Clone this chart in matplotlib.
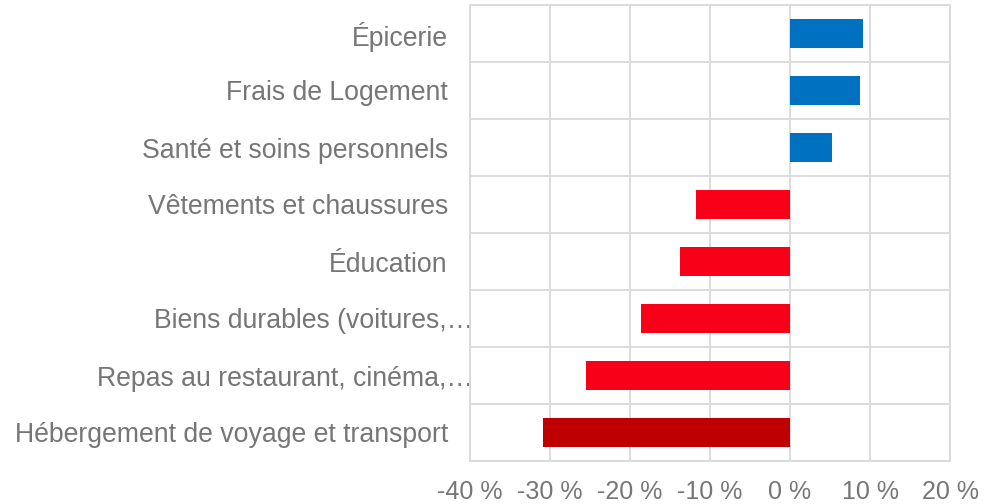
import matplotlib.pyplot as plt
import matplotlib.transforms as mtransforms
import numpy as np

plt.rcParams['font.family'] = ['Liberation Sans', 'DejaVu Sans']

categories = ["Hébergement de voyage et transport", "Repas au restaurant, cinéma,…",
              "Biens durables (voitures,…", "Éducation", "Vêtements et chaussures",
              "Santé et soins personnels", "Frais de Logement", "Épicerie"]
values = [-30.9, -25.5, -18.6, -13.8, -11.7, 5.3, 8.7, 9.1]
colors = ["#C00000", "#F80018", "#F80018", "#F80018", "#F80018", "#0070C0", "#0070C0", "#0070C0"]
xticks = [-40, -30, -20, -10, 0, 10, 20]

fig = plt.figure(figsize=(9.92, 5.04), dpi=100)
ax = fig.add_axes([470/992, 43/504, 480/992, 456/504])

y = np.arange(len(categories))
ax.barh(y, values, height=0.52, color=colors, zorder=3)

ax.set_xlim(-40, 20)
ax.set_ylim(-0.5, len(categories) - 0.5)
ax.set_xticks(xticks)
ax.set_xticklabels([f"{t} %" for t in xticks], fontsize=18, color="#767676")
ax.set_yticks(y)
ax.set_yticklabels(categories, fontsize=19.2, color="#767676")
ax.set_yticks(np.arange(-0.5, len(categories)), minor=True)
ax.tick_params(axis='both', which='both', length=0)
ax.tick_params(axis='y', pad=16)
ax.tick_params(axis='x', pad=14)

ax.grid(axis='x', which='major', color="#d9d9d9", linewidth=1.3, zorder=0)
ax.grid(axis='y', which='minor', color="#d9d9d9", linewidth=1.3, zorder=0)
for s in ax.spines.values():
    s.set_color("#d9d9d9")
    s.set_linewidth(1.3)

# truncated labels run past the gap, as in the original
shift = mtransforms.ScaledTranslation(25/100, 0, fig.dpi_scale_trans)
for lab in ax.get_yticklabels():
    if lab.get_text().endswith("…"):
        lab.set_transform(lab.get_transform() + shift)

fig.savefig("out.png", dpi=100)
